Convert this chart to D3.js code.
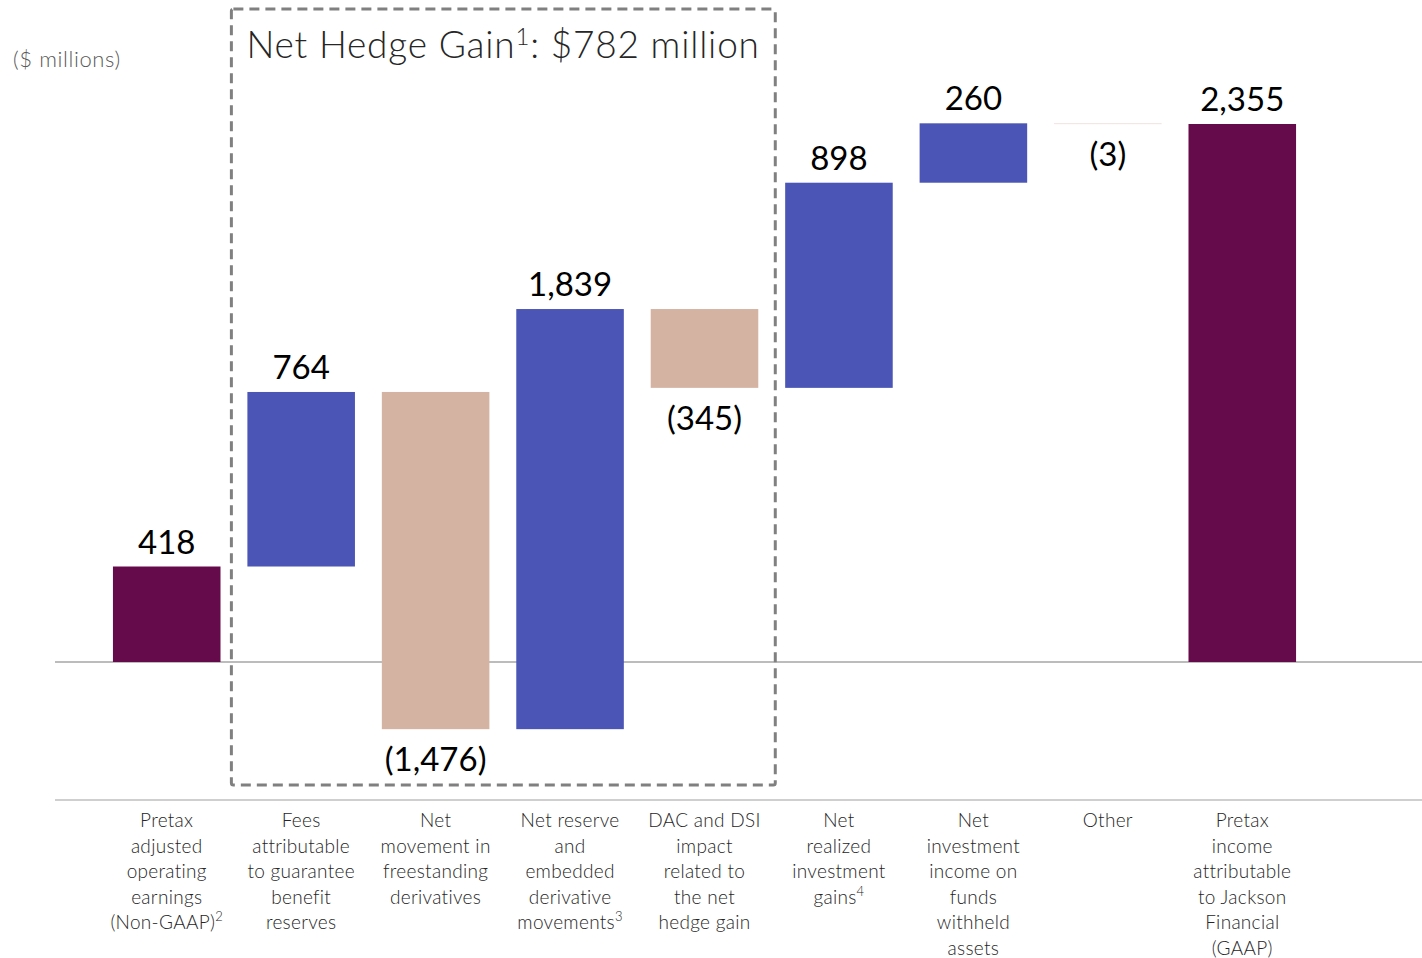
<!DOCTYPE html>
<html>
<head>
<meta charset="utf-8">
<script src="https://cdn.jsdelivr.net/npm/d3@7"></script>
<style>
  body { margin: 0; background: #fff; }
  svg { font-family: Lato, "Open Sans", sans-serif; }
</style>
</head>
<body>
<script>
// categories, each one as its wrapped lines
var categories = ["pretaxAOE", "fees", "freestanding", "reserve", "dac", "realized", "fwh", "other", "pretaxGAAP"];
var categoryLines = [
    ["Pretax", "adjusted", "operating", "earnings", "(Non-GAAP)"],
    ["Fees", "attributable", "to guarantee", "benefit", "reserves"],
    ["Net", "movement in", "freestanding", "derivatives"],
    ["Net reserve", "and", "embedded", "derivative", "movements"],
    ["DAC and DSI", "impact", "related to", "the net", "hedge gain"],
    ["Net", "realized", "investment", "gains"],
    ["Net", "investment", "income on", "funds", "withheld", "assets"],
    ["Other"],
    ["Pretax", "income", "attributable", "to Jackson", "Financial", "(GAAP)"]
];
var footnotes = ["2", "", "", "3", "", "4", "", "", ""];
// values ($ millions); first and last are totals
var values = [418, 764, -1476, 1839, -345, 898, 260, -3, 2355];
var isTotal = [true, false, false, false, false, false, false, false, true];
var valueLabels = ["418", "764", "(1,476)", "1,839", "(345)", "898", "260", "(3)", "2,355"];

var unitsLabel = "($ millions)";
var hedgeTitle = "Net Hedge Gain";
var hedgeNote = "1";
var hedgeValue = ": $782 million";
var hedgeFirst = 1, hedgeLast = 4;

//drawing
var width = 1422, height = 958;

var colors = { total: "#650A4A", up: "#4A55B5", down: "#D4B3A3" };

var svg = d3.select("body")
    .append("svg")
    .attr("width", width)
    .attr("height", height);

//running totals for the waterfall
var bars = [];
var run = 0;
values.forEach(function(v, i){
    var start, end;
    if (isTotal[i]) { start = 0; end = v; run = v; }
    else { start = run; end = run + v; run = end; }
    bars.push({ key: categories[i], value: v, start: start, end: end, total: isTotal[i], label: valueLabels[i] });
});

var x = d3.scaleBand()
    .domain(categories)
    .range([99.5, 1309.5])
    .paddingInner(0.2)
    .paddingOuter(0.1);

var y = d3.scaleLinear()
    .domain([0, 2355])
    .range([662, 124]);

//units
svg.append("text")
    .attr("x", 13)
    .attr("y", 67)
    .attr("font-size", 22)
    .attr("font-weight", 300)
    .attr("letter-spacing", 0.6)
    .attr("fill", "#595959")
    .text(unitsLabel);

//zero line and the category separator
svg.append("line")
    .attr("x1", 55).attr("x2", width)
    .attr("y1", y(0)).attr("y2", y(0))
    .attr("stroke", "#A6A6A6").attr("stroke-width", 1.3);

svg.append("line")
    .attr("x1", 55).attr("x2", width)
    .attr("y1", 800).attr("y2", 800)
    .attr("stroke", "#BFBFBF").attr("stroke-width", 1.5);

//bars
svg.selectAll(".bar")
    .data(bars)
    .enter()
    .append("rect")
    .attr("class", "bar")
    .attr("x", function(d){ return x(d.key); })
    .attr("width", x.bandwidth())
    .attr("y", function(d){ return Math.min(y(d.start), y(d.end)); })
    .attr("height", function(d){ return Math.max(0.8, Math.abs(y(d.start) - y(d.end))); })
    .attr("fill", function(d){ return d.total ? colors.total : (d.value >= 0 ? colors.up : colors.down); })
    .attr("fill-opacity", function(d){ return Math.abs(d.value) < 10 ? 0.45 : 1; });

//value labels
svg.selectAll(".val")
    .data(bars)
    .enter()
    .append("text")
    .attr("class", "val")
    .attr("x", function(d){ return x(d.key) + x.bandwidth() / 2; })
    .attr("y", function(d){
        return d.value >= 0 ? y(Math.max(d.start, d.end)) - 13 : y(Math.min(d.start, d.end)) + 42;
    })
    .attr("text-anchor", "middle")
    .attr("font-size", 33)
    .attr("fill", "#000")
    .text(function(d){ return d.label; });

//category labels
var cat = svg.selectAll(".cat")
    .data(categories)
    .enter()
    .append("text")
    .attr("class", "cat")
    .attr("text-anchor", "middle")
    .attr("font-size", 19)
    .attr("font-weight", 300)
    .attr("letter-spacing", 0.3)
    .attr("fill", "#262626");

cat.each(function(c, i){
    var t = d3.select(this);
    var cx = x(c) + x.bandwidth() / 2;
    var lines = categoryLines[i];
    lines.forEach(function(line, j){
        t.append("tspan")
            .attr("x", cx)
            .attr("y", 827 + j * 25.5)
            .text(line);
        if (j === lines.length - 1 && footnotes[i]) {
            t.append("tspan")
                .attr("dy", -8)
                .attr("font-size", 13)
                .text(footnotes[i]);
        }
    });
});

//net hedge gain box
var bx0 = x(categories[hedgeFirst]) - 16,
    bx1 = x(categories[hedgeLast]) + x.bandwidth() + 17;
svg.append("rect")
    .attr("x", bx0)
    .attr("y", 9)
    .attr("width", bx1 - bx0)
    .attr("height", 776)
    .attr("rx", 2)
    .attr("fill", "none")
    .attr("stroke", "#808080")
    .attr("stroke-width", 3)
    .attr("stroke-dasharray", "10,6");

var title = svg.append("text")
    .attr("x", bx0 + 15)
    .attr("y", 58)
    .attr("font-size", 37)
    .attr("font-weight", 300)
    .attr("letter-spacing", 0.8)
    .attr("fill", "#262626");
title.append("tspan").text(hedgeTitle);
title.append("tspan").attr("dy", -13).attr("font-size", 24).text(hedgeNote);
title.append("tspan").attr("dy", 13).text(hedgeValue);
</script>
</body>
</html>
